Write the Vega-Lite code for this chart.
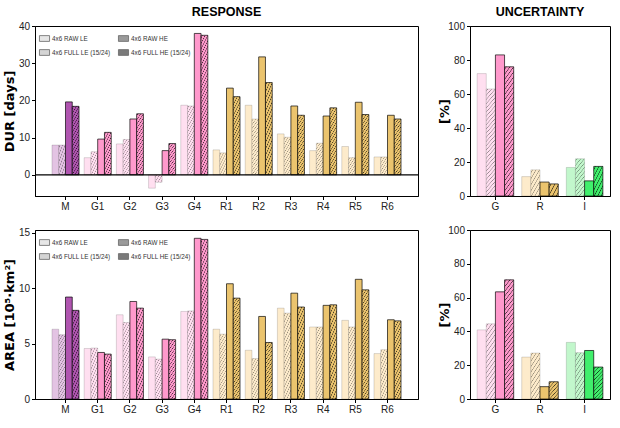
{
"$schema": "https://vega.github.io/schema/vega-lite/v6.json",
"padding": {"left": 3, "top": 5, "right": 0, "bottom": 0},
"params": [
{"name": "C", "value": {"ML": "#e3c3e3", "MH": "#b055b0", "GL": "#ffdff0", "GH": "#ff99cc", "RL": "#fdebcb", "RH": "#ebc46e", "IL": "#c2f7cc", "IH": "#40ef6c"}},
{"name": "H", "value": [
{"gradient": "linear", "x1": 0, "y1": 0, "x2": 1.14, "y2": 0.8, "stops": [
{"offset": 0.075, "color": "rgba(0,0,0,0)"}, {"offset": 0.125, "color": "#000"}, {"offset": 0.175, "color": "rgba(0,0,0,0)"},
{"offset": 0.325, "color": "rgba(0,0,0,0)"}, {"offset": 0.375, "color": "#000"}, {"offset": 0.425, "color": "rgba(0,0,0,0)"},
{"offset": 0.575, "color": "rgba(0,0,0,0)"}, {"offset": 0.625, "color": "#000"}, {"offset": 0.675, "color": "rgba(0,0,0,0)"},
{"offset": 0.825, "color": "rgba(0,0,0,0)"}, {"offset": 0.875, "color": "#000"}, {"offset": 0.925, "color": "rgba(0,0,0,0)"}]},
{"gradient": "linear", "x1": 0, "y1": 0, "x2": 0.713, "y2": 1.175, "stops": [
{"offset": 0.0429, "color": "rgba(0,0,0,0)"}, {"offset": 0.0714, "color": "#000"}, {"offset": 0.1, "color": "rgba(0,0,0,0)"},
{"offset": 0.1857, "color": "rgba(0,0,0,0)"}, {"offset": 0.2143, "color": "#000"}, {"offset": 0.2429, "color": "rgba(0,0,0,0)"},
{"offset": 0.3286, "color": "rgba(0,0,0,0)"}, {"offset": 0.3571, "color": "#000"}, {"offset": 0.3857, "color": "rgba(0,0,0,0)"},
{"offset": 0.4714, "color": "rgba(0,0,0,0)"}, {"offset": 0.5, "color": "#000"}, {"offset": 0.5286, "color": "rgba(0,0,0,0)"},
{"offset": 0.6143, "color": "rgba(0,0,0,0)"}, {"offset": 0.6429, "color": "#000"}, {"offset": 0.6714, "color": "rgba(0,0,0,0)"},
{"offset": 0.7571, "color": "rgba(0,0,0,0)"}, {"offset": 0.7857, "color": "#000"}, {"offset": 0.8143, "color": "rgba(0,0,0,0)"},
{"offset": 0.9, "color": "rgba(0,0,0,0)"}, {"offset": 0.9286, "color": "#000"}, {"offset": 0.9571, "color": "rgba(0,0,0,0)"}]},
{"gradient": "linear", "x1": 0, "y1": 0, "x2": 0.363, "y2": 1.194, "stops": [
{"offset": 0.0273, "color": "rgba(0,0,0,0)"}, {"offset": 0.0455, "color": "#000"}, {"offset": 0.0636, "color": "rgba(0,0,0,0)"},
{"offset": 0.1182, "color": "rgba(0,0,0,0)"}, {"offset": 0.1364, "color": "#000"}, {"offset": 0.1545, "color": "rgba(0,0,0,0)"},
{"offset": 0.2091, "color": "rgba(0,0,0,0)"}, {"offset": 0.2273, "color": "#000"}, {"offset": 0.2455, "color": "rgba(0,0,0,0)"},
{"offset": 0.3, "color": "rgba(0,0,0,0)"}, {"offset": 0.3182, "color": "#000"}, {"offset": 0.3364, "color": "rgba(0,0,0,0)"},
{"offset": 0.3909, "color": "rgba(0,0,0,0)"}, {"offset": 0.4091, "color": "#000"}, {"offset": 0.4273, "color": "rgba(0,0,0,0)"},
{"offset": 0.4818, "color": "rgba(0,0,0,0)"}, {"offset": 0.5, "color": "#000"}, {"offset": 0.5182, "color": "rgba(0,0,0,0)"},
{"offset": 0.5727, "color": "rgba(0,0,0,0)"}, {"offset": 0.5909, "color": "#000"}, {"offset": 0.6091, "color": "rgba(0,0,0,0)"},
{"offset": 0.6636, "color": "rgba(0,0,0,0)"}, {"offset": 0.6818, "color": "#000"}, {"offset": 0.7, "color": "rgba(0,0,0,0)"},
{"offset": 0.7545, "color": "rgba(0,0,0,0)"}, {"offset": 0.7727, "color": "#000"}, {"offset": 0.7909, "color": "rgba(0,0,0,0)"},
{"offset": 0.8455, "color": "rgba(0,0,0,0)"}, {"offset": 0.8636, "color": "#000"}, {"offset": 0.8818, "color": "rgba(0,0,0,0)"},
{"offset": 0.9364, "color": "rgba(0,0,0,0)"}, {"offset": 0.9545, "color": "#000"}, {"offset": 0.9727, "color": "rgba(0,0,0,0)"}]},
{"gradient": "linear", "x1": 0, "y1": 0, "x2": 0.193, "y2": 1.137, "stops": [
{"offset": 0.0176, "color": "rgba(0,0,0,0)"}, {"offset": 0.0294, "color": "#000"}, {"offset": 0.0412, "color": "rgba(0,0,0,0)"},
{"offset": 0.0765, "color": "rgba(0,0,0,0)"}, {"offset": 0.0882, "color": "#000"}, {"offset": 0.1, "color": "rgba(0,0,0,0)"},
{"offset": 0.1353, "color": "rgba(0,0,0,0)"}, {"offset": 0.1471, "color": "#000"}, {"offset": 0.1588, "color": "rgba(0,0,0,0)"},
{"offset": 0.1941, "color": "rgba(0,0,0,0)"}, {"offset": 0.2059, "color": "#000"}, {"offset": 0.2176, "color": "rgba(0,0,0,0)"},
{"offset": 0.2529, "color": "rgba(0,0,0,0)"}, {"offset": 0.2647, "color": "#000"}, {"offset": 0.2765, "color": "rgba(0,0,0,0)"},
{"offset": 0.3118, "color": "rgba(0,0,0,0)"}, {"offset": 0.3235, "color": "#000"}, {"offset": 0.3353, "color": "rgba(0,0,0,0)"},
{"offset": 0.3706, "color": "rgba(0,0,0,0)"}, {"offset": 0.3824, "color": "#000"}, {"offset": 0.3941, "color": "rgba(0,0,0,0)"},
{"offset": 0.4294, "color": "rgba(0,0,0,0)"}, {"offset": 0.4412, "color": "#000"}, {"offset": 0.4529, "color": "rgba(0,0,0,0)"},
{"offset": 0.4882, "color": "rgba(0,0,0,0)"}, {"offset": 0.5, "color": "#000"}, {"offset": 0.5118, "color": "rgba(0,0,0,0)"},
{"offset": 0.5471, "color": "rgba(0,0,0,0)"}, {"offset": 0.5588, "color": "#000"}, {"offset": 0.5706, "color": "rgba(0,0,0,0)"},
{"offset": 0.6059, "color": "rgba(0,0,0,0)"}, {"offset": 0.6176, "color": "#000"}, {"offset": 0.6294, "color": "rgba(0,0,0,0)"},
{"offset": 0.6647, "color": "rgba(0,0,0,0)"}, {"offset": 0.6765, "color": "#000"}, {"offset": 0.6882, "color": "rgba(0,0,0,0)"},
{"offset": 0.7235, "color": "rgba(0,0,0,0)"}, {"offset": 0.7353, "color": "#000"}, {"offset": 0.7471, "color": "rgba(0,0,0,0)"},
{"offset": 0.7824, "color": "rgba(0,0,0,0)"}, {"offset": 0.7941, "color": "#000"}, {"offset": 0.8059, "color": "rgba(0,0,0,0)"},
{"offset": 0.8412, "color": "rgba(0,0,0,0)"}, {"offset": 0.8529, "color": "#000"}, {"offset": 0.8647, "color": "rgba(0,0,0,0)"},
{"offset": 0.9, "color": "rgba(0,0,0,0)"}, {"offset": 0.9118, "color": "#000"}, {"offset": 0.9235, "color": "rgba(0,0,0,0)"},
{"offset": 0.9588, "color": "rgba(0,0,0,0)"}, {"offset": 0.9706, "color": "#000"}, {"offset": 0.9824, "color": "rgba(0,0,0,0)"}]},
{"gradient": "linear", "x1": 0, "y1": 0, "x2": 0.107, "y2": 1.088, "stops": [
{"offset": 0.0107, "color": "rgba(0,0,0,0)"}, {"offset": 0.0179, "color": "#000"}, {"offset": 0.025, "color": "rgba(0,0,0,0)"},
{"offset": 0.0464, "color": "rgba(0,0,0,0)"}, {"offset": 0.0536, "color": "#000"}, {"offset": 0.0607, "color": "rgba(0,0,0,0)"},
{"offset": 0.0821, "color": "rgba(0,0,0,0)"}, {"offset": 0.0893, "color": "#000"}, {"offset": 0.0964, "color": "rgba(0,0,0,0)"},
{"offset": 0.1179, "color": "rgba(0,0,0,0)"}, {"offset": 0.125, "color": "#000"}, {"offset": 0.1321, "color": "rgba(0,0,0,0)"},
{"offset": 0.1536, "color": "rgba(0,0,0,0)"}, {"offset": 0.1607, "color": "#000"}, {"offset": 0.1679, "color": "rgba(0,0,0,0)"},
{"offset": 0.1893, "color": "rgba(0,0,0,0)"}, {"offset": 0.1964, "color": "#000"}, {"offset": 0.2036, "color": "rgba(0,0,0,0)"},
{"offset": 0.225, "color": "rgba(0,0,0,0)"}, {"offset": 0.2321, "color": "#000"}, {"offset": 0.2393, "color": "rgba(0,0,0,0)"},
{"offset": 0.2607, "color": "rgba(0,0,0,0)"}, {"offset": 0.2679, "color": "#000"}, {"offset": 0.275, "color": "rgba(0,0,0,0)"},
{"offset": 0.2964, "color": "rgba(0,0,0,0)"}, {"offset": 0.3036, "color": "#000"}, {"offset": 0.3107, "color": "rgba(0,0,0,0)"},
{"offset": 0.3321, "color": "rgba(0,0,0,0)"}, {"offset": 0.3393, "color": "#000"}, {"offset": 0.3464, "color": "rgba(0,0,0,0)"},
{"offset": 0.3679, "color": "rgba(0,0,0,0)"}, {"offset": 0.375, "color": "#000"}, {"offset": 0.3821, "color": "rgba(0,0,0,0)"},
{"offset": 0.4036, "color": "rgba(0,0,0,0)"}, {"offset": 0.4107, "color": "#000"}, {"offset": 0.4179, "color": "rgba(0,0,0,0)"},
{"offset": 0.4393, "color": "rgba(0,0,0,0)"}, {"offset": 0.4464, "color": "#000"}, {"offset": 0.4536, "color": "rgba(0,0,0,0)"},
{"offset": 0.475, "color": "rgba(0,0,0,0)"}, {"offset": 0.4821, "color": "#000"}, {"offset": 0.4893, "color": "rgba(0,0,0,0)"},
{"offset": 0.5107, "color": "rgba(0,0,0,0)"}, {"offset": 0.5179, "color": "#000"}, {"offset": 0.525, "color": "rgba(0,0,0,0)"},
{"offset": 0.5464, "color": "rgba(0,0,0,0)"}, {"offset": 0.5536, "color": "#000"}, {"offset": 0.5607, "color": "rgba(0,0,0,0)"},
{"offset": 0.5821, "color": "rgba(0,0,0,0)"}, {"offset": 0.5893, "color": "#000"}, {"offset": 0.5964, "color": "rgba(0,0,0,0)"},
{"offset": 0.6179, "color": "rgba(0,0,0,0)"}, {"offset": 0.625, "color": "#000"}, {"offset": 0.6321, "color": "rgba(0,0,0,0)"},
{"offset": 0.6536, "color": "rgba(0,0,0,0)"}, {"offset": 0.6607, "color": "#000"}, {"offset": 0.6679, "color": "rgba(0,0,0,0)"},
{"offset": 0.6893, "color": "rgba(0,0,0,0)"}, {"offset": 0.6964, "color": "#000"}, {"offset": 0.7036, "color": "rgba(0,0,0,0)"},
{"offset": 0.725, "color": "rgba(0,0,0,0)"}, {"offset": 0.7321, "color": "#000"}, {"offset": 0.7393, "color": "rgba(0,0,0,0)"},
{"offset": 0.7607, "color": "rgba(0,0,0,0)"}, {"offset": 0.7679, "color": "#000"}, {"offset": 0.775, "color": "rgba(0,0,0,0)"},
{"offset": 0.7964, "color": "rgba(0,0,0,0)"}, {"offset": 0.8036, "color": "#000"}, {"offset": 0.8107, "color": "rgba(0,0,0,0)"},
{"offset": 0.8321, "color": "rgba(0,0,0,0)"}, {"offset": 0.8393, "color": "#000"}, {"offset": 0.8464, "color": "rgba(0,0,0,0)"},
{"offset": 0.8679, "color": "rgba(0,0,0,0)"}, {"offset": 0.875, "color": "#000"}, {"offset": 0.8821, "color": "rgba(0,0,0,0)"},
{"offset": 0.9036, "color": "rgba(0,0,0,0)"}, {"offset": 0.9107, "color": "#000"}, {"offset": 0.9179, "color": "rgba(0,0,0,0)"},
{"offset": 0.9393, "color": "rgba(0,0,0,0)"}, {"offset": 0.9464, "color": "#000"}, {"offset": 0.9536, "color": "rgba(0,0,0,0)"},
{"offset": 0.975, "color": "rgba(0,0,0,0)"}, {"offset": 0.9821, "color": "#000"}, {"offset": 0.9893, "color": "rgba(0,0,0,0)"}]}
]}
],
"datasets": {
"dur": [
{"cat": "M", "type": "4x6 RAW LE", "v": 8.0}, {"cat": "M", "type": "4x6 FULL LE (15/24)", "v": 8.0}, {"cat": "M", "type": "4x6 RAW HE", "v": 19.6}, {"cat": "M", "type": "4x6 FULL HE (15/24)", "v": 18.4},
{"cat": "G1", "type": "4x6 RAW LE", "v": 4.6}, {"cat": "G1", "type": "4x6 FULL LE (15/24)", "v": 6.2}, {"cat": "G1", "type": "4x6 RAW HE", "v": 9.6}, {"cat": "G1", "type": "4x6 FULL HE (15/24)", "v": 11.4},
{"cat": "G2", "type": "4x6 RAW LE", "v": 8.3}, {"cat": "G2", "type": "4x6 FULL LE (15/24)", "v": 9.5}, {"cat": "G2", "type": "4x6 RAW HE", "v": 15.0}, {"cat": "G2", "type": "4x6 FULL HE (15/24)", "v": 16.4},
{"cat": "G3", "type": "4x6 RAW LE", "v": -3.6}, {"cat": "G3", "type": "4x6 FULL LE (15/24)", "v": -2.0}, {"cat": "G3", "type": "4x6 RAW HE", "v": 6.5}, {"cat": "G3", "type": "4x6 FULL HE (15/24)", "v": 8.4},
{"cat": "G4", "type": "4x6 RAW LE", "v": 18.7}, {"cat": "G4", "type": "4x6 FULL LE (15/24)", "v": 18.5}, {"cat": "G4", "type": "4x6 RAW HE", "v": 38.0}, {"cat": "G4", "type": "4x6 FULL HE (15/24)", "v": 37.5},
{"cat": "R1", "type": "4x6 RAW LE", "v": 6.7}, {"cat": "R1", "type": "4x6 FULL LE (15/24)", "v": 5.9}, {"cat": "R1", "type": "4x6 RAW HE", "v": 23.3}, {"cat": "R1", "type": "4x6 FULL HE (15/24)", "v": 21.0},
{"cat": "R2", "type": "4x6 RAW LE", "v": 18.7}, {"cat": "R2", "type": "4x6 FULL LE (15/24)", "v": 15.0}, {"cat": "R2", "type": "4x6 RAW HE", "v": 31.7}, {"cat": "R2", "type": "4x6 FULL HE (15/24)", "v": 24.8},
{"cat": "R3", "type": "4x6 RAW LE", "v": 11.0}, {"cat": "R3", "type": "4x6 FULL LE (15/24)", "v": 10.1}, {"cat": "R3", "type": "4x6 RAW HE", "v": 18.5}, {"cat": "R3", "type": "4x6 FULL HE (15/24)", "v": 16.0},
{"cat": "R4", "type": "4x6 RAW LE", "v": 6.5}, {"cat": "R4", "type": "4x6 FULL LE (15/24)", "v": 8.5}, {"cat": "R4", "type": "4x6 RAW HE", "v": 15.8}, {"cat": "R4", "type": "4x6 FULL HE (15/24)", "v": 18.0},
{"cat": "R5", "type": "4x6 RAW LE", "v": 7.6}, {"cat": "R5", "type": "4x6 FULL LE (15/24)", "v": 4.6}, {"cat": "R5", "type": "4x6 RAW HE", "v": 19.5}, {"cat": "R5", "type": "4x6 FULL HE (15/24)", "v": 16.2},
{"cat": "R6", "type": "4x6 RAW LE", "v": 4.8}, {"cat": "R6", "type": "4x6 FULL LE (15/24)", "v": 4.8}, {"cat": "R6", "type": "4x6 RAW HE", "v": 16.0}, {"cat": "R6", "type": "4x6 FULL HE (15/24)", "v": 15.0}
],
"area": [
{"cat": "M", "type": "4x6 RAW LE", "v": 6.3}, {"cat": "M", "type": "4x6 FULL LE (15/24)", "v": 5.8}, {"cat": "M", "type": "4x6 RAW HE", "v": 9.2}, {"cat": "M", "type": "4x6 FULL HE (15/24)", "v": 8.0},
{"cat": "G1", "type": "4x6 RAW LE", "v": 4.56}, {"cat": "G1", "type": "4x6 FULL LE (15/24)", "v": 4.6}, {"cat": "G1", "type": "4x6 RAW HE", "v": 4.2}, {"cat": "G1", "type": "4x6 FULL HE (15/24)", "v": 4.05},
{"cat": "G2", "type": "4x6 RAW LE", "v": 7.6}, {"cat": "G2", "type": "4x6 FULL LE (15/24)", "v": 6.9}, {"cat": "G2", "type": "4x6 RAW HE", "v": 8.8}, {"cat": "G2", "type": "4x6 FULL HE (15/24)", "v": 8.2},
{"cat": "G3", "type": "4x6 RAW LE", "v": 3.8}, {"cat": "G3", "type": "4x6 FULL LE (15/24)", "v": 3.6}, {"cat": "G3", "type": "4x6 RAW HE", "v": 5.4}, {"cat": "G3", "type": "4x6 FULL HE (15/24)", "v": 5.35},
{"cat": "G4", "type": "4x6 RAW LE", "v": 7.9}, {"cat": "G4", "type": "4x6 FULL LE (15/24)", "v": 7.95}, {"cat": "G4", "type": "4x6 RAW HE", "v": 14.5}, {"cat": "G4", "type": "4x6 FULL HE (15/24)", "v": 14.4},
{"cat": "R1", "type": "4x6 RAW LE", "v": 6.3}, {"cat": "R1", "type": "4x6 FULL LE (15/24)", "v": 5.85}, {"cat": "R1", "type": "4x6 RAW HE", "v": 10.4}, {"cat": "R1", "type": "4x6 FULL HE (15/24)", "v": 9.1},
{"cat": "R2", "type": "4x6 RAW LE", "v": 4.4}, {"cat": "R2", "type": "4x6 FULL LE (15/24)", "v": 3.65}, {"cat": "R2", "type": "4x6 RAW HE", "v": 7.45}, {"cat": "R2", "type": "4x6 FULL HE (15/24)", "v": 5.1},
{"cat": "R3", "type": "4x6 RAW LE", "v": 8.2}, {"cat": "R3", "type": "4x6 FULL LE (15/24)", "v": 7.75}, {"cat": "R3", "type": "4x6 RAW HE", "v": 9.55}, {"cat": "R3", "type": "4x6 FULL HE (15/24)", "v": 8.3},
{"cat": "R4", "type": "4x6 RAW LE", "v": 6.5}, {"cat": "R4", "type": "4x6 FULL LE (15/24)", "v": 6.5}, {"cat": "R4", "type": "4x6 RAW HE", "v": 8.45}, {"cat": "R4", "type": "4x6 FULL HE (15/24)", "v": 8.5},
{"cat": "R5", "type": "4x6 RAW LE", "v": 7.1}, {"cat": "R5", "type": "4x6 FULL LE (15/24)", "v": 6.5}, {"cat": "R5", "type": "4x6 RAW HE", "v": 10.8}, {"cat": "R5", "type": "4x6 FULL HE (15/24)", "v": 9.85},
{"cat": "R6", "type": "4x6 RAW LE", "v": 4.1}, {"cat": "R6", "type": "4x6 FULL LE (15/24)", "v": 4.45}, {"cat": "R6", "type": "4x6 RAW HE", "v": 7.15}, {"cat": "R6", "type": "4x6 FULL HE (15/24)", "v": 7.05}
],
"unc1": [
{"cat": "G", "type": "4x6 RAW LE", "v": 72}, {"cat": "G", "type": "4x6 FULL LE (15/24)", "v": 63}, {"cat": "G", "type": "4x6 RAW HE", "v": 83}, {"cat": "G", "type": "4x6 FULL HE (15/24)", "v": 76},
{"cat": "R", "type": "4x6 RAW LE", "v": 11.4}, {"cat": "R", "type": "4x6 FULL LE (15/24)", "v": 15.4}, {"cat": "R", "type": "4x6 RAW HE", "v": 8.2}, {"cat": "R", "type": "4x6 FULL HE (15/24)", "v": 7.1},
{"cat": "I", "type": "4x6 RAW LE", "v": 16.8}, {"cat": "I", "type": "4x6 FULL LE (15/24)", "v": 21.9}, {"cat": "I", "type": "4x6 RAW HE", "v": 8.9}, {"cat": "I", "type": "4x6 FULL HE (15/24)", "v": 17.4}
],
"unc2": [
{"cat": "G", "type": "4x6 RAW LE", "v": 40.9}, {"cat": "G", "type": "4x6 FULL LE (15/24)", "v": 44.5}, {"cat": "G", "type": "4x6 RAW HE", "v": 63.4}, {"cat": "G", "type": "4x6 FULL HE (15/24)", "v": 70.5},
{"cat": "R", "type": "4x6 RAW LE", "v": 24.8}, {"cat": "R", "type": "4x6 FULL LE (15/24)", "v": 27.2}, {"cat": "R", "type": "4x6 RAW HE", "v": 7.3}, {"cat": "R", "type": "4x6 FULL HE (15/24)", "v": 10.2},
{"cat": "I", "type": "4x6 RAW LE", "v": 33.5}, {"cat": "I", "type": "4x6 FULL LE (15/24)", "v": 27.4}, {"cat": "I", "type": "4x6 RAW HE", "v": 28.7}, {"cat": "I", "type": "4x6 FULL HE (15/24)", "v": 18.9}
]
},
"columns": 2,
"spacing": {"row": 34, "column": 52},
"bounds": "flush",
"align": "each",
"resolve": {"scale": {"fill": "independent", "xOffset": "independent"}, "legend": {"fill": "independent"}},
"concat": [
{
"width": 383, "height": 170,
"title": {"text": "RESPONSE"},
"data": {"name": "dur"},
"layer": [
{"encoding": {
"x": {"field": "cat", "type": "nominal", "scale": {"domain": ["M","G1","G2","G3","G4","R1","R2","R3","R4","R5","R6"], "paddingInner": 0.16, "paddingOuter": 0.527}, "axis": {"title": null, "labelAngle": 0}},
"xOffset": {"field": "type", "scale": {"domain": ["4x6 RAW LE","4x6 FULL LE (15/24)","4x6 RAW HE","4x6 FULL HE (15/24)"], "paddingInner": 0, "paddingOuter": 0}},
"y": {"field": "v", "type": "quantitative", "scale": {"domain": [-5.7, 40], "nice": false, "zero": false}, "axis": {"title": "DUR [days]", "values": [0,10,20,30,40], "titlePadding": 1.5}}},
"layer": [
{"mark": {"type": "bar", "stroke": "#000", "strokeWidth": 0.8}, "encoding": {
"fill": {"value": {"expr": "C[substring(datum.cat,0,1) + (indexof(datum.type,'LE')>=0 ? 'L' : 'H')]"}},
"strokeOpacity": {"condition": {"test": "indexof(datum.type,'LE')>=0", "value": 0.18}, "value": 0.85}}},
{"transform": [{"filter": "indexof(datum.type,'FULL')>=0"}], "mark": {"type": "bar"}, "encoding": {
"fill": {"value": {"expr": "H[abs(datum.v)>=25.5?4:abs(datum.v)>=14.8?3:abs(datum.v)>=8.06?2:abs(datum.v)>=3.76?1:0]"}},
"fillOpacity": {"condition": {"test": "indexof(datum.type,'LE')>=0", "value": 0.4}, "value": 0.72}}},
{"mark": {"type": "bar", "opacity": 0}, "encoding": {
"fill": {"field": "type", "type": "nominal", "scale": {"domain": ["4x6 RAW LE","4x6 FULL LE (15/24)","4x6 RAW HE","4x6 FULL HE (15/24)"], "range": ["#e6e6e6","#d4d4d4","#9a9a9a","#7a7a7a"]},
"legend": {"title": null, "orient": "none", "legendX": 3, "legendY": 6, "padding": 2, "columns": 2, "columnPadding": 5, "rowPadding": 5,
"symbolType": "M-1.4,-0.8H1.4V0.8H-1.4Z", "symbolSize": 52, "symbolStrokeWidth": 0.8, "symbolStrokeColor": "#666", "symbolOpacity": 1,
"labelFontSize": 6.3, "labelColor": "#333", "labelOffset": 3}}}}
]},
{"data": {"values": [{}]}, "mark": {"type": "rule", "color": "#000", "strokeWidth": 1.3}, "encoding": {"y": {"datum": 0, "type": "quantitative", "axis": {"title": "DUR [days]", "values": [0,10,20,30,40], "titlePadding": 1.5}}}}
]
},
{
"width": 140, "height": 170,
"title": {"text": "UNCERTAINTY"},
"data": {"name": "unc1"},
"encoding": {
"x": {"field": "cat", "type": "nominal", "scale": {"domain": ["G","R","I"], "paddingInner": 0.18, "paddingOuter": 0.16}, "axis": {"title": null, "labelAngle": 0}},
"xOffset": {"field": "type", "scale": {"domain": ["4x6 RAW LE","4x6 FULL LE (15/24)","4x6 RAW HE","4x6 FULL HE (15/24)"], "paddingInner": 0, "paddingOuter": 0}},
"y": {"field": "v", "type": "quantitative", "scale": {"domain": [0, 100], "nice": false}, "axis": {"title": "[%]", "values": [0,20,40,60,80,100], "titlePadding": -4}}},
"layer": [
{"mark": {"type": "bar", "stroke": "#000", "strokeWidth": 0.8}, "encoding": {
"fill": {"value": {"expr": "C[substring(datum.cat,0,1) + (indexof(datum.type,'LE')>=0 ? 'L' : 'H')]"}},
"strokeOpacity": {"condition": {"test": "indexof(datum.type,'LE')>=0", "value": 0.18}, "value": 0.85}}},
{"transform": [{"filter": "indexof(datum.type,'FULL')>=0"}], "mark": {"type": "bar"}, "encoding": {
"fill": {"value": {"expr": "H[abs(datum.v)>=56.2?4:abs(datum.v)>=32.5?3:abs(datum.v)>=17.8?2:abs(datum.v)>=8.3?1:0]"}},
"fillOpacity": {"condition": {"test": "indexof(datum.type,'LE')>=0", "value": 0.4}, "value": 0.72}}}
]
},
{
"width": 383, "height": 169,
"data": {"name": "area"},
"encoding": {
"x": {"field": "cat", "type": "nominal", "scale": {"domain": ["M","G1","G2","G3","G4","R1","R2","R3","R4","R5","R6"], "paddingInner": 0.16, "paddingOuter": 0.527}, "axis": {"title": null, "labelAngle": 0}},
"xOffset": {"field": "type", "scale": {"domain": ["4x6 RAW LE","4x6 FULL LE (15/24)","4x6 RAW HE","4x6 FULL HE (15/24)"], "paddingInner": 0, "paddingOuter": 0}},
"y": {"field": "v", "type": "quantitative", "scale": {"domain": [0, 15.25], "nice": false}, "axis": {"title": "AREA [10⁵·km²]", "values": [0,5,10,15], "titlePadding": 1.5}}},
"layer": [
{"mark": {"type": "bar", "stroke": "#000", "strokeWidth": 0.8}, "encoding": {
"fill": {"value": {"expr": "C[substring(datum.cat,0,1) + (indexof(datum.type,'LE')>=0 ? 'L' : 'H')]"}},
"strokeOpacity": {"condition": {"test": "indexof(datum.type,'LE')>=0", "value": 0.18}, "value": 0.85}}},
{"transform": [{"filter": "indexof(datum.type,'FULL')>=0"}], "mark": {"type": "bar"}, "encoding": {
"fill": {"value": {"expr": "H[abs(datum.v)>=8.56?4:abs(datum.v)>=4.95?3:abs(datum.v)>=2.7?2:abs(datum.v)>=1.26?1:0]"}},
"fillOpacity": {"condition": {"test": "indexof(datum.type,'LE')>=0", "value": 0.4}, "value": 0.72}}},
{"mark": {"type": "bar", "opacity": 0}, "encoding": {
"fill": {"field": "type", "type": "nominal", "scale": {"domain": ["4x6 RAW LE","4x6 FULL LE (15/24)","4x6 RAW HE","4x6 FULL HE (15/24)"], "range": ["#e6e6e6","#d4d4d4","#9a9a9a","#7a7a7a"]},
"legend": {"title": null, "orient": "none", "legendX": 3, "legendY": 6, "padding": 2, "columns": 2, "columnPadding": 5, "rowPadding": 5,
"symbolType": "M-1.4,-0.8H1.4V0.8H-1.4Z", "symbolSize": 52, "symbolStrokeWidth": 0.8, "symbolStrokeColor": "#666", "symbolOpacity": 1,
"labelFontSize": 6.3, "labelColor": "#333", "labelOffset": 3}}}}
]
},
{
"width": 140, "height": 169,
"data": {"name": "unc2"},
"encoding": {
"x": {"field": "cat", "type": "nominal", "scale": {"domain": ["G","R","I"], "paddingInner": 0.18, "paddingOuter": 0.16}, "axis": {"title": null, "labelAngle": 0}},
"xOffset": {"field": "type", "scale": {"domain": ["4x6 RAW LE","4x6 FULL LE (15/24)","4x6 RAW HE","4x6 FULL HE (15/24)"], "paddingInner": 0, "paddingOuter": 0}},
"y": {"field": "v", "type": "quantitative", "scale": {"domain": [0, 100], "nice": false}, "axis": {"title": "[%]", "values": [0,20,40,60,80,100], "titlePadding": -4}}},
"layer": [
{"mark": {"type": "bar", "stroke": "#000", "strokeWidth": 0.8}, "encoding": {
"fill": {"value": {"expr": "C[substring(datum.cat,0,1) + (indexof(datum.type,'LE')>=0 ? 'L' : 'H')]"}},
"strokeOpacity": {"condition": {"test": "indexof(datum.type,'LE')>=0", "value": 0.18}, "value": 0.85}}},
{"transform": [{"filter": "indexof(datum.type,'FULL')>=0"}], "mark": {"type": "bar"}, "encoding": {
"fill": {"value": {"expr": "H[abs(datum.v)>=56.2?4:abs(datum.v)>=32.5?3:abs(datum.v)>=17.8?2:abs(datum.v)>=8.3?1:0]"}},
"fillOpacity": {"condition": {"test": "indexof(datum.type,'LE')>=0", "value": 0.4}, "value": 0.72}}}
]
}
],
"config": {
"font": "Liberation Sans",
"view": {"stroke": "#000", "strokeWidth": 1},
"axis": {"grid": false, "domainColor": "#000", "tickColor": "#000", "labelColor": "#222", "labelFont": "Liberation Sans", "labelFontSize": 10, "tickSize": 3.5, "labelPadding": 2, "titleFont": "DejaVu Sans", "titleFontWeight": "bold", "titleFontSize": 13, "titleColor": "#000"},
"legend": {"labelFont": "Liberation Sans"},
"title": {"font": "Liberation Sans", "fontSize": 12.5, "fontWeight": "bold", "color": "#000", "offset": 3}
}
}
